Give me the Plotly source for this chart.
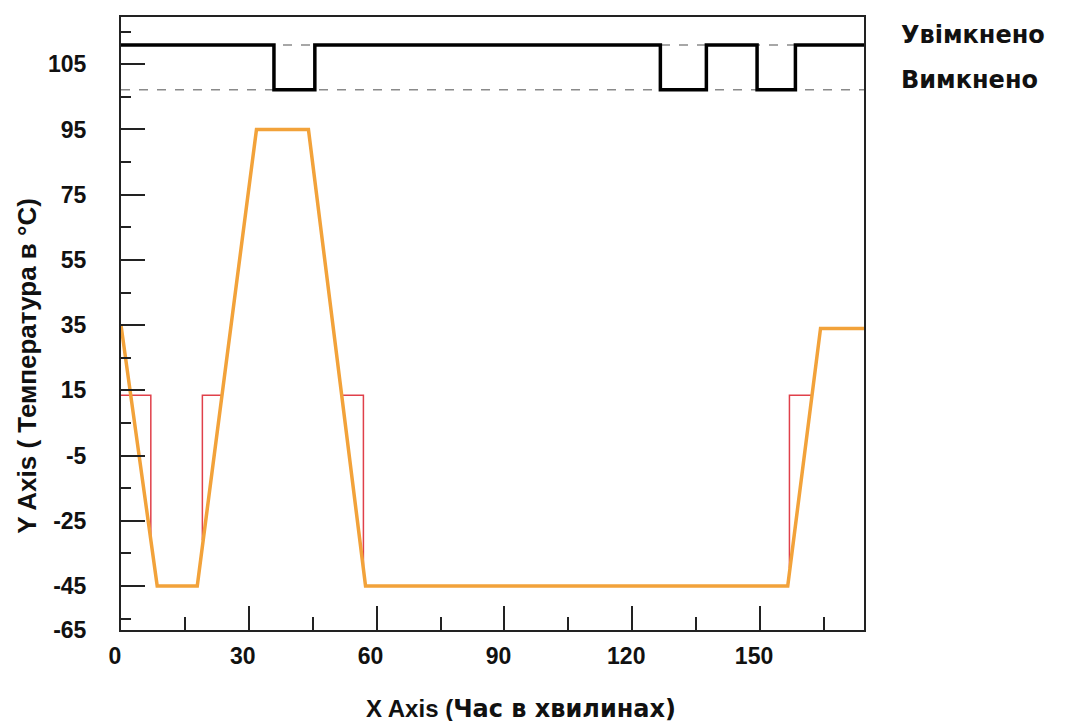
import plotly.graph_objects as go

# ---- data ----
temp_time = [0, 8.5, 17.9, 31.8, 44.0, 57.4, 156.5, 164.2, 174.4]
temp_value = [35, -45, -45, 95, 95, -45, -45, 34, 34]

setpoint_time = [0, 7.0, 7.0, None, 19.1, 19.1, 23.7, None, 51.7, 56.9, 56.9, None, 156.9, 156.9, 162.1]
setpoint_value = [13.5, 13.5, -31.5, None, -31, 13.5, 13.5, None, 13.5, 13.5, -39, None, -39.5, 13.5, 13.5]

state_time = [0, 35.9, 45.5, 126.6, 137.4, 149.3, 158.3, 174.4]
state_value = [1, 0, 1, 0, 1, 0, 1, 1]
state_names = ["Увімкнено", "Вимкнено"]
state_levels = [1, 0]

x_range = [0, 174.4]
x_ticks = [0, 30, 60, 90, 120, 150]
x_minor = [15, 45, 75, 105, 135, 165]

y_range = [-58.5, 129.5]
y_tick_pos = [115, 95, 75, 55, 35, 15, -5, -25, -45, -58.4]
y_tick_labels = ["105", "95", "75", "55", "35", "15", "-5", "-25", "-45", "-65"]
y_minor = [125, 105, 85, 65, 45, 25, 5, -15, -35, -55]

y2_range = [-12.04, 1.622]

x_title = "<b>X Axis (</b><span style='font-family:DejaVu Sans'><b>Час в хвилинах)</b></span>"
y_title = "<b>Y Axis ( Температура в °C)</b>"

tick_font = dict(family="Liberation Sans, Arial, sans-serif", size=23, color="#111", weight="bold")

fig = go.Figure()

# dashed reference levels for on/off states
for lvl in state_levels:
    fig.add_trace(go.Scatter(
        x=x_range, y=[lvl, lvl], yaxis="y2", mode="lines",
        line=dict(color="#8a8a8a", width=1.5, dash="dash"),
        hoverinfo="skip", showlegend=False))

fig.add_trace(go.Scatter(
    x=state_time, y=state_value, yaxis="y2", mode="lines",
    line=dict(color="black", width=3.5, shape="hv"), showlegend=False))

fig.add_trace(go.Scatter(
    x=setpoint_time, y=setpoint_value, mode="lines",
    line=dict(color="#e0404a", width=1.5), connectgaps=False, showlegend=False))

fig.add_trace(go.Scatter(
    x=temp_time, y=temp_value, mode="lines",
    line=dict(color="#f2a23a", width=3.5), showlegend=False))

for name, lvl in zip(state_names, state_levels):
    fig.add_annotation(
        x=1.047, xref="paper", y=lvl, yref="y2", yshift=10,
        text="<b>" + name + "</b>", showarrow=False, xanchor="left",
        font=dict(family="DejaVu Sans, Verdana, sans-serif", size=24, color="#111"))

# axis titles
fig.add_annotation(
    x=0.538, xref="paper", y=0, yref="paper", yshift=-79, yanchor="middle",
    text=x_title, showarrow=False,
    font=dict(family="Liberation Sans, Arial, sans-serif", size=24, color="#111"))
fig.add_annotation(
    x=-0.1265, xref="paper", y=0.431, yref="paper", textangle=-90,
    xanchor="center", yanchor="middle",
    text=y_title, showarrow=False,
    font=dict(family="Liberation Sans, Arial, sans-serif", size=26, color="#111"))

fig.update_layout(
    width=1065, height=721,
    margin=dict(l=113, r=209, t=7, b=99),
    paper_bgcolor="white", plot_bgcolor="white",
    showlegend=False,
    xaxis=dict(
        range=x_range, tickmode="array", tickvals=x_ticks,
        ticktext=[str(v) for v in x_ticks],
        ticks="inside", ticklen=24, tickwidth=1.5, tickcolor="#222",
        minor=dict(tickmode="array", tickvals=x_minor, ticks="inside",
                   ticklen=13, tickwidth=1.5, tickcolor="#222"),
        showline=True, linecolor="#222", linewidth=2, mirror=True,
        showgrid=False, zeroline=False,
        tickfont=tick_font, ticklabelstandoff=4, ticklabelshift=-6,
    ),
    yaxis=dict(
        range=y_range, tickmode="array", tickvals=y_tick_pos, ticktext=y_tick_labels,
        ticks="inside", ticklen=24, tickwidth=1.5, tickcolor="#222",
        minor=dict(tickmode="array", tickvals=y_minor, ticks="inside",
                   ticklen=10, tickwidth=1.5, tickcolor="#222"),
        showline=True, linecolor="#222", linewidth=2, mirror=True,
        showgrid=False, zeroline=False,
        tickfont=tick_font, ticklabelstandoff=28,
    ),
    yaxis2=dict(
        range=y2_range, overlaying="y", side="right",
        showticklabels=False, showgrid=False, zeroline=False, showline=False, ticks="",
    ),
)

fig.write_html("out.html")
